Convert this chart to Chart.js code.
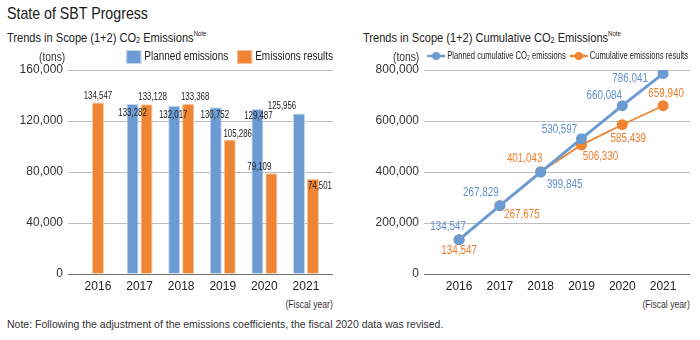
<!DOCTYPE html>
<html><head><meta charset="utf-8">
<script src="https://cdn.jsdelivr.net/npm/chart.js@4.4.0/dist/chart.umd.min.js"></script>
<style>
html,body{margin:0;padding:0;background:#fff;}
body{width:700px;height:340px;position:relative;overflow:hidden;font-family:"Liberation Sans",Arial,sans-serif;color:#222;}
.t{position:absolute;white-space:nowrap;line-height:1;}
.n{display:inline-block;transform:scaleX(0.82);transform-origin:left top;}
.nr{display:inline-block;transform:scaleX(0.82);transform-origin:right top;}
.cv{position:absolute;top:44px;width:350px;height:276px;}
sub{font-size:0.65em;vertical-align:-0.15em;line-height:0;}
sup{font-size:0.55em;vertical-align:0.75em;line-height:0;}
</style></head>
<body>
<div class="t" style="left:7px;top:5px;font-size:17px;color:#1a1a1a;"><span class="n" style="transform:scaleX(0.835)">State of SBT Progress</span></div>
<div class="t" style="left:7px;top:31px;font-size:13.5px;"><span class="n">Trends in Scope (1+2) CO<sub>2</sub> Emissions<sup>Note</sup></span></div>
<div class="t" style="left:363px;top:31px;font-size:13.5px;"><span class="n">Trends in Scope (1+2) Cumulative CO<sub>2</sub> Emissions<sup>Note</sup></span></div>
<div class="t" style="right:367px;top:299px;font-size:10.5px;color:#333;"><span class="nr">(Fiscal year)</span></div>
<div class="t" style="right:10px;top:299px;font-size:10.5px;color:#333;"><span class="nr">(Fiscal year)</span></div>
<div class="t" style="left:7px;top:319px;font-size:10.5px;color:#333;">Note: Following the adjustment of the emissions coefficients, the fiscal 2020 data was revised.</div>
<div class="cv" style="left:0;"><canvas id="c1" width="350" height="276"></canvas></div>
<div class="cv" style="left:350px;"><canvas id="c2" width="350" height="276"></canvas></div>
<div class="t" style="left:39px;top:51px;font-size:12.5px;color:#333;"><span class="n">(tons)</span></div>
<div class="t" style="left:393px;top:51px;font-size:12.5px;color:#333;"><span class="n">(tons)</span></div>
<script>
// ---- data ----
const fiscalYears = [2016, 2017, 2018, 2019, 2020, 2021];
const plannedEmissions = [null, 133282, 132017, 130752, 129487, 125956];
const emissionsResults = [134547, 133128, 133368, 105286, 79109, 74501];
const plannedCumulative = [134547, 267829, 399845, 530597, 660084, 786041];
const cumulativeResults = [134547, 267675, 401043, 506330, 585439, 659940];
const barTicks = [0, 40000, 80000, 120000, 160000];
const lineTicks = [0, 200000, 400000, 600000, 800000];

// ---- label placement (styling only) ----
const barLabelShift = {
  planned: [[0,0],[0,9],[-1,9],[-1,8],[1,7],[-17,-7]],
  results: [[0,-6],[6,-7],[7,-7],[8,-6],[-12,-6],[7,7]]
};
const lineLabelShift = {
  planned: [[-11,-13],[-19,-13],[24,13],[-22,-9],[-18,-10],[-33,5]],
  results: [[0,11],[22,9],[-16,-13],[19,12],[6,14],[3,-12]]
};

const REG = "'Liberation Sans',Arial,sans-serif";
const BLUE = '#6b9bd2', ORANGE = '#ef8433';
const fmt = v => v.toLocaleString('en-US');
const pts = arr => fiscalYears.map((y, i) => ({x: y, y: arr[i]}));

function narrowText(ctx, text, x, y, sx) {
  ctx.save();
  ctx.translate(x, y);
  ctx.scale(sx, 1);
  ctx.fillText(text, 0, 0);
  ctx.restore();
}

const valueLabels = {
  id: 'valueLabels',
  afterDatasetsDraw(chart, args, opts) {
    const ctx = chart.ctx;
    ctx.save();
    ctx.textAlign = 'center';
    ctx.textBaseline = 'middle';
    ctx.font = opts.font;
    chart.data.datasets.forEach((ds, di) => {
      const meta = chart.getDatasetMeta(di);
      const shifts = opts.shifts[di];
      ctx.fillStyle = opts.colors[di];
      meta.data.forEach((el, i) => {
        const v = ds.data[i].y;
        if (v == null) return;
        narrowText(ctx, fmt(v), el.x + shifts[i][0], el.y + shifts[i][1], opts.sx);
      });
    });
    ctx.restore();
  }
};

const topLegend = {
  id: 'topLegend',
  afterDraw(chart, args, o) {
    const ctx = chart.ctx;
    ctx.save();
    ctx.font = o.font;
    ctx.textBaseline = 'middle';
    ctx.textAlign = 'left';
    let x = o.right;
    const ds = chart.data.datasets;
    for (let i = ds.length - 1; i >= 0; i--) {
      const w = ctx.measureText(ds[i].label).width * o.sx;
      const tx = x - w;
      ctx.fillStyle = '#222';
      narrowText(ctx, ds[i].label, tx, o.y, o.sx);
      const mx = tx - o.gap - o.markerW;
      if (o.style === 'box') {
        ctx.fillStyle = ds[i].backgroundColor;
        ctx.fillRect(mx, o.y - o.markerH / 2, o.markerW, o.markerH);
        ctx.strokeStyle = ds[i].borderColor;
        ctx.lineWidth = 1;
        ctx.strokeRect(mx + 0.5, o.y - o.markerH / 2 + 0.5, o.markerW - 1, o.markerH - 1);
      } else {
        ctx.strokeStyle = ds[i].borderColor;
        ctx.lineWidth = 2.5;
        ctx.beginPath(); ctx.moveTo(mx, o.y); ctx.lineTo(mx + o.markerW, o.y); ctx.stroke();
        ctx.fillStyle = ds[i].borderColor;
        ctx.beginPath(); ctx.arc(mx + o.markerW / 2, o.y, 4, 0, Math.PI * 2); ctx.fill();
      }
      x = mx - o.itemGap;
    }
    ctx.restore();
  }
};

function yAxis(max, step, width) {
  return {
    min: 0, max: max,
    afterFit: a => { a.width = width; },
    border: {display: false},
    grid: {drawTicks: false, lineWidth: 1, color: c => c.tick.value === 0 ? '#6e6e6e' : '#bdbdbd'},
    ticks: {stepSize: step, padding: 5, color: '#333', font: {family: REG, size: 12}, callback: v => fmt(v)}
  };
}
function xAxis(min, max) {
  return {
    type: 'linear', min: min, max: max, offset: false,
    afterFit: a => { a.height = 46; },
    border: {display: false},
    grid: {display: false, drawTicks: false},
    ticks: {stepSize: 1, includeBounds: false, padding: 5, color: '#222', font: {family: REG, size: 12}, callback: v => String(v), maxRotation: 0}
  };
}

new Chart(document.getElementById('c1'), {
  type: 'bar',
  data: {
    datasets: [
      {label: 'Planned emissions', data: pts(plannedEmissions), backgroundColor: BLUE, borderColor: '#c4d7ee', borderWidth: 1, skipNull: true, categoryPercentage: 0.67, barPercentage: 0.86, maxBarThickness: 12},
      {label: 'Emissions results', data: pts(emissionsResults), backgroundColor: ORANGE, borderColor: '#f6c49c', borderWidth: 1, skipNull: true, categoryPercentage: 0.67, barPercentage: 0.86, maxBarThickness: 12}
    ]
  },
  options: {
    responsive: false, animation: false, devicePixelRatio: 1,
    layout: {padding: {left: 0, right: 17, top: 26, bottom: 0}},
    scales: {x: xAxis(2015.28, 2021.65), y: yAxis(160000, 40000, 68)},
    plugins: {
      tooltip: {enabled: false},
      legend: {display: false},
      topLegend: {right: 333, y: 13, font: "12.5px " + REG, sx: 0.8, style: 'box', markerW: 15, markerH: 14, gap: 3, itemGap: 9},
      valueLabels: {font: "10.5px " + REG, sx: 0.75, colors: ['#222', '#222'], shifts: [barLabelShift.planned, barLabelShift.results]}
    }
  },
  plugins: [valueLabels, topLegend]
});

new Chart(document.getElementById('c2'), {
  type: 'line',
  data: {
    datasets: [
      {label: 'Planned cumulative CO\u2082 emissions', data: pts(plannedCumulative), borderColor: BLUE, backgroundColor: BLUE, borderWidth: 3, pointRadius: 5.5, pointBorderWidth: 0, pointBackgroundColor: BLUE, tension: 0},
      {label: 'Cumulative emissions results', data: pts(cumulativeResults), borderColor: ORANGE, backgroundColor: ORANGE, borderWidth: 1.8, pointRadius: 5.5, pointBorderWidth: 0, pointBackgroundColor: ORANGE, tension: 0}
    ]
  },
  options: {
    responsive: false, animation: false, devicePixelRatio: 1,
    layout: {padding: {left: 0, right: 10, top: 26, bottom: 0}},
    scales: {x: xAxis(2015.14, 2021.66), y: yAxis(800000, 200000, 74)},
    plugins: {
      tooltip: {enabled: false},
      legend: {display: false},
      topLegend: {right: 338, y: 12, font: "11.5px " + REG, sx: 0.66, style: 'line', markerW: 18, markerH: 10, gap: 2, itemGap: 4},
      valueLabels: {font: "12px " + REG, sx: 0.82, colors: ['#5f8fcc', '#ee7d2c'], shifts: [lineLabelShift.planned, lineLabelShift.results]}
    }
  },
  plugins: [valueLabels, topLegend]
});
</script>
</body></html>
